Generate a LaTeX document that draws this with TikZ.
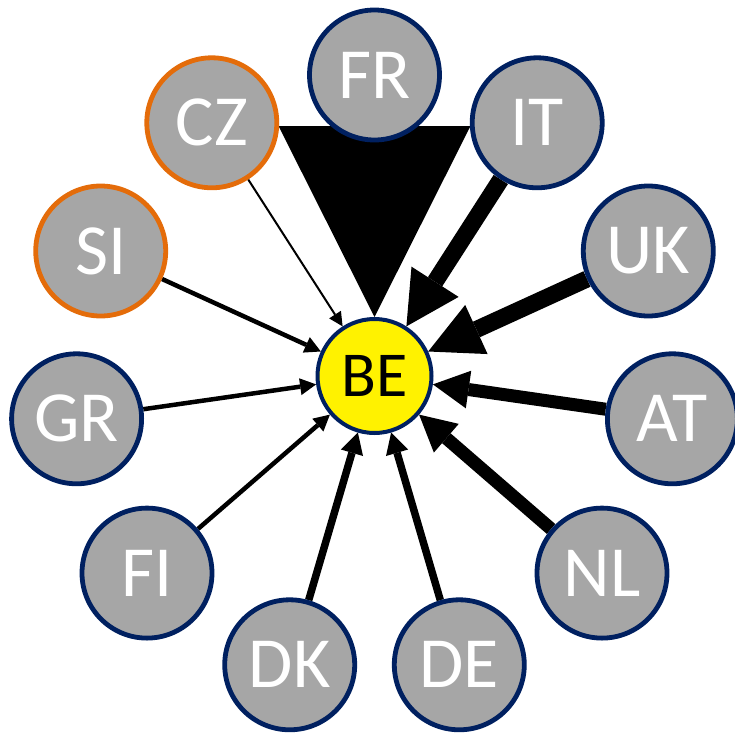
\documentclass[tikz,border=0pt]{standalone}
\usepackage{fontspec}
\setmainfont{Carlito}
\usetikzlibrary{arrows.meta}
\definecolor{nodegray}{HTML}{A6A6A6}
\definecolor{navy}{HTML}{002060}
\definecolor{orng}{HTML}{E46C0A}
\pgfdeclarelayer{background}
\pgfsetlayers{background,main}
\tikzset{
  country/.style={circle, draw=navy, line width=4.8pt, fill=nodegray,
    minimum size=130pt, inner sep=0pt, text=white,
    font=\fontsize{72}{72}\selectfont},
  orangeborder/.style={draw=orng},
  hub/.style={circle, draw=navy, line width=4pt, fill=yellow,
    minimum size=114pt, inner sep=0pt, text=black,
    font=\fontsize{64}{64}\selectfont},
  flow/.style n args={3}{draw=black, line width=#1,
    -{Triangle[width=#2, length=#3, line width=0pt]}}
}
\begin{document}
\begin{tikzpicture}[x=1pt, y=-1pt]
\useasboundingbox (0,0) rectangle (735,733);
\node[hub] (BE) at (374.5,376) {BE};
\node[country] (FR) at (374.5,75) {FR};
\node[country] (IT) at (537.2,122.8) {IT};
\node[country] (UK) at (648.3,251) {UK};
\node[country] (AT) at (672.4,418.8) {AT};
\node[country] (NL) at (602,573.1) {NL};
\node[country] (DE) at (459.3,664.8) {DE};
\node[country] (DK) at (289.7,664.8) {DK};
\node[country] (FI) at (147,573.1) {FI};
\node[country] (GR) at (76.6,418.8) {GR};
\node[country, orangeborder] (SI) at (100.7,251) {SI};
\node[country, orangeborder] (CZ) at (211.8,122.8) {CZ};
\begin{pgfonlayer}{background}
\draw[flow={60pt}{192pt}{191pt}] (FR.center) -- (BE);
\draw[flow={17pt}{56pt}{53pt}] (IT) -- (BE);
\draw[flow={17pt}{54pt}{53pt}] (UK) -- (BE);
\draw[flow={13pt}{38pt}{36pt}] (AT) -- (BE);
\draw[flow={13pt}{38pt}{36pt}] (NL) -- (BE);
\draw[flow={7.5pt}{23pt}{21pt}] (DE) -- (BE);
\draw[flow={7.5pt}{23pt}{21pt}] (DK) -- (BE);
\draw[flow={4.5pt}{17pt}{16pt}] (FI) -- (BE);
\draw[flow={4.5pt}{17pt}{16pt}] (GR) -- (BE);
\draw[flow={4.5pt}{17pt}{16pt}] (SI) -- (BE);
\draw[flow={2pt}{14pt}{14pt}] (CZ) -- (BE);
\end{pgfonlayer}
\end{tikzpicture}
\end{document}
